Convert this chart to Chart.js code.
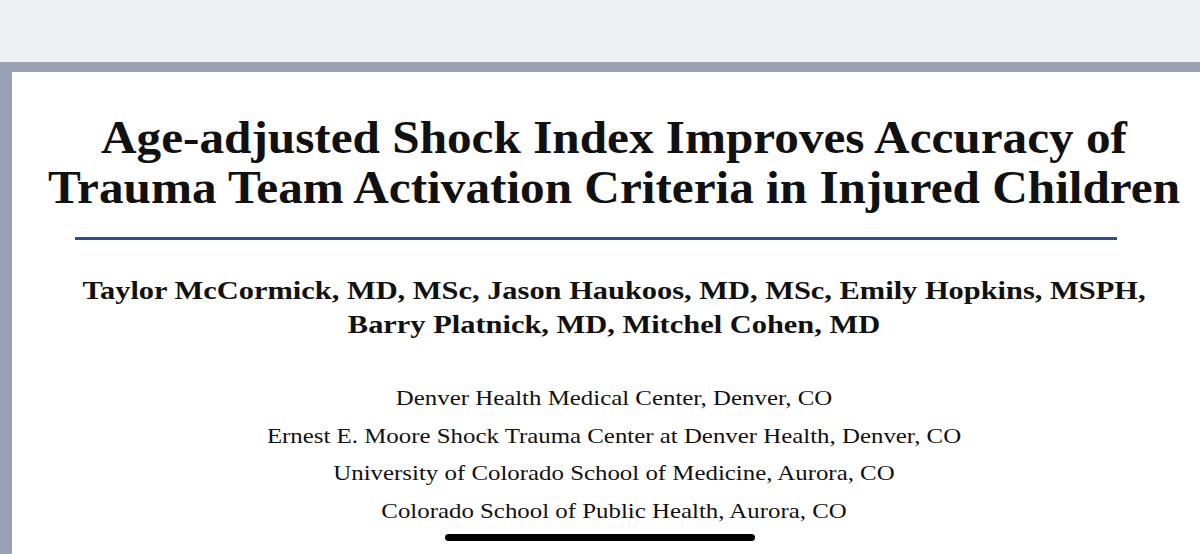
<!DOCTYPE html>
<html>
<head>
<meta charset="utf-8">
<script src="https://cdn.jsdelivr.net/npm/chart.js@4"></script>
<style>
  html, body { margin: 0; padding: 0; width: 1200px; height: 554px; overflow: hidden; background: #eef1f2; }
  #frame { position: absolute; left: 0; top: 62px; width: 1200px; height: 492px; background: #9aa3b6; }
  #page { position: absolute; left: 12px; top: 72px; width: 1188px; height: 482px; background: #fff; }
  .c { position: absolute; left: 16px; width: 1196px; text-align: center; font-family: "Liberation Serif", "DejaVu Serif", serif; color: #111; transform-origin: 598px 0; }
  .title { font-weight: bold; font-size: 46px; line-height: 50px; top: 113px; transform: scaleX(1.07); }
  .auth { font-weight: bold; font-size: 26px; line-height: 34px; top: 274px; transform: scaleX(1.17); }
  .aff { font-size: 22px; line-height: 37.5px; top: 379px; transform: scaleX(1.13); }
  #rule { position: absolute; left: 75px; top: 237px; width: 1042px; height: 3px; background: #2c4d9c; }
  #home { position: absolute; left: 445px; top: 534px; width: 310px; height: 7px; border-radius: 4px; background: #000; }
  #chartBox { position: absolute; left: 0; top: 0; width: 1px; height: 1px; opacity: 0; }
</style>
</head>
<body>
<div id="frame"></div>
<div id="page"></div>
<div id="rule"></div>
<div class="c title" id="title"></div>
<div class="c auth" id="auth"></div>
<div class="c aff" id="aff"></div>
<div id="home"></div>
<div id="chartBox"><canvas id="c"></canvas></div>
<script>
var titleLines = ["Age-adjusted Shock Index Improves Accuracy of", "Trauma Team Activation Criteria in Injured Children"];
var authorLines = ["Taylor McCormick, MD, MSc, Jason Haukoos, MD, MSc, Emily Hopkins, MSPH,", "Barry Platnick, MD, Mitchel Cohen, MD"];
var affiliations = ["Denver Health Medical Center, Denver, CO", "Ernest E. Moore Shock Trauma Center at Denver Health, Denver, CO", "University of Colorado School of Medicine, Aurora, CO", "Colorado School of Public Health, Aurora, CO"];

function fill(id, lines) {
  var el = document.getElementById(id);
  lines.forEach(function (t) {
    var d = document.createElement('div');
    d.textContent = t;
    el.appendChild(d);
  });
}
fill('title', titleLines);
fill('auth', authorLines);
fill('aff', affiliations);

// slide has no plotted data; empty chart instance kept invisible
var ctx = document.getElementById('c').getContext('2d');
var emptyChart = new Chart(ctx, {
  type: 'bar',
  data: { labels: [], datasets: [] },
  options: { animation: false, responsive: false, plugins: { legend: { display: false } }, scales: { x: { display: false }, y: { display: false } } }
});
</script>
</body>
</html>
